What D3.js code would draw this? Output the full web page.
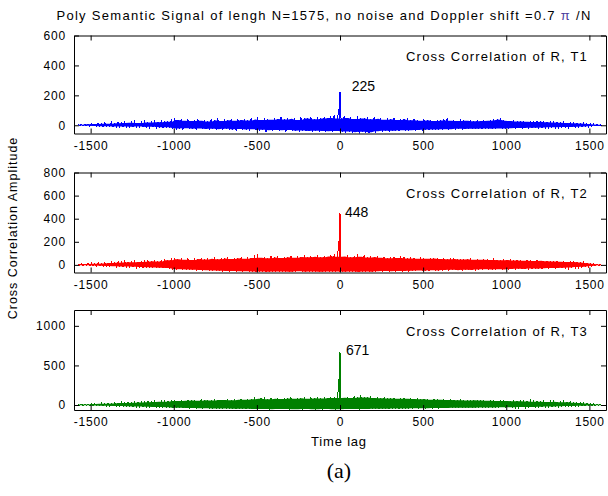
<!DOCTYPE html>
<html><head><meta charset="utf-8">
<script src="https://cdn.jsdelivr.net/npm/d3@7/dist/d3.min.js"></script>
<style>
body{margin:0;background:#fff}
text{font-family:"Liberation Sans",Arial,sans-serif;fill:#000}
</style></head><body>
<svg id="c" width="608" height="496"></svg>
<script>
// ---------- data ----------
const titleText = "Poly Semantic Signal of lengh N=1575, no noise and Doppler shift =0.7";
const timeLagTicks = [-1500, -1000, -500, 0, 500, 1000, 1500];
const yTicks1 = [0, 200, 400, 600];
const yTicks2 = [0, 200, 400, 600, 800];
const yTicks3 = [0, 500, 1000];
const seriesNames = ["Cross Correlation of R, T1", "Cross Correlation of R, T2", "Cross Correlation of R, T3"];
const binFirstLag = -1570, binStep = 20;           // time-lag bins (centre of first bin, bin width)
const peakLags = [-6, -3, 0];
const peak1 = [107, 15, 225];
const peak2 = [210, 20, 448];
const peak3 = [325, 25, 671];
const peakLabels = ["225", "448", "671"];
const peakLabelLag = [70, 30, 36];
const peakLabelValue = [262, 455, 690];
// upper / lower extremes of the correlation inside each 20-lag bin
const hi1 = [4,7,6,9,12,8,14,11,16,10, 18,13,20,15,22,17,19,24,16,21, 25,18,23,27,20,26,30,24,38,48,
  35,44,30,40,28,37,42,31,36,26, 39,33,45,29,38,34,41,30,44,36, 40,32,47,38,52,35,49,43,37,50,
  42,54,39,47,44,51,36,55,45,48, 58,41,52,46,56,49,62,70,45,60, 64,48,57,42,60,50,46,55,40,52,
  44,50,37,46,41,48,35,43,39,46, 33,42,38,30,40,34,37,29,36,32, 40,50,31,36,28,38,33,30,35,27,
  34,29,36,31,33,38,42,47,35,30, 28,32,25,30,27,24,29,22,26,23, 27,20,24,19,22,17,21,15,18,14,
  16,12,13,10,9,7,5,3];
const lo1 = [-2,-4,-3,-6,-5,-8,-7,-10,-6,-9, -11,-8,-12,-9,-13,-10,-14,-11,-9,-13,
  -12,-15,-10,-16,-13,-17,-14,-18,-24,-30, -22,-28,-20,-26,-24,-29,-21,-27,-25,-30,
  -23,-31,-26,-33,-24,-30,-28,-35,-25,-32, -29,-36,-27,-34,-38,-30,-45,-33,-37,-31,
  -39,-34,-42,-32,-40,-36,-43,-35,-41,-38, -44,-37,-42,-39,-46,-40,-43,-38,-41,-44,
  -48,-42,-53,-47,-55,-44,-50,-54,-46,-49, -40,-45,-37,-42,-38,-36,-41,-34,-39,-35,
  -33,-37,-31,-35,-30,-34,-28,-32,-29,-31, -27,-30,-26,-29,-24,-28,-25,-27,-23,-26,
  -24,-27,-22,-25,-23,-26,-21,-24,-22,-25, -20,-23,-19,-22,-18,-21,-17,-20,-16,-19,
  -15,-18,-14,-16,-13,-15,-12,-14,-11,-12, -10,-11,-8,-9,-7,-5,-4,-2];
const hi2 = [5,9,7,12,15,10,18,13,22,16, 25,18,28,20,32,24,22,30,26,35, 28,38,32,42,30,45,50,40,55,62,
  48,58,45,60,42,55,50,62,46,57, 52,64,48,60,55,66,50,62,58,68, 54,70,60,85,90,62,72,58,75,64,
  78,60,72,66,80,62,74,68,82,65, 76,70,84,66,80,72,88,95,70,80, 72,86,66,78,90,70,82,64,76,68,
  74,62,70,58,72,66,60,75,64,56, 68,60,54,65,58,52,62,55,60,50, 57,48,55,62,50,46,54,49,58,45,
  52,44,50,47,42,55,45,40,48,43, 46,38,44,40,36,42,38,34,40,35, 37,32,35,30,33,28,31,26,28,24,
  25,20,22,16,14,10,7,4];
const lo2 = [-3,-5,-4,-8,-6,-10,-8,-12,-9,-14, -11,-16,-13,-18,-15,-20,-17,-22,-19,-24,
  -20,-26,-22,-28,-25,-30,-27,-34,-40,-46, -38,-44,-40,-48,-42,-50,-45,-52,-47,-54,
  -49,-55,-50,-57,-52,-58,-53,-60,-55,-62, -56,-63,-58,-61,-65,-57,-62,-59,-64,-58,
  -63,-57,-61,-65,-59,-62,-56,-64,-60,-63, -58,-62,-65,-59,-63,-57,-61,-64,-58,-62,
  -60,-65,-58,-63,-61,-64,-57,-62,-59,-63, -55,-60,-53,-58,-56,-61,-52,-57,-54,-59,
  -50,-55,-48,-53,-51,-56,-46,-52,-49,-54, -45,-50,-43,-48,-46,-51,-42,-47,-44,-49,
  -40,-45,-38,-43,-41,-46,-37,-42,-39,-44, -35,-40,-33,-38,-36,-41,-32,-37,-34,-38,
  -30,-34,-28,-32,-26,-30,-24,-27,-22,-25, -19,-21,-16,-17,-12,-10,-7,-4];
const hi3 = [6,10,8,14,12,18,15,22,17,26, 20,28,24,32,26,35,30,38,33,40, 36,50,38,44,40,47,42,52,56,60,
  50,64,55,68,58,62,54,70,60,66, 58,72,62,68,64,74,60,70,66,76, 68,80,72,96,78,88,100,74,86,80,
  92,76,88,82,96,78,90,84,98,80, 94,86,100,82,96,90,104,98,88,95, 92,100,88,110,94,130,102,96,108,90,
  98,86,94,82,92,88,80,90,84,78, 86,76,82,72,80,74,68,78,70,66, 75,64,72,66,60,70,62,58,68,60,
  64,56,62,54,60,58,52,57,50,55, 52,48,55,46,50,44,52,42,48,40, 46,38,44,62,40,36,42,34,38,30,
  32,26,28,20,16,12,8,5];
const lo3 = [-3,-5,-4,-7,-6,-9,-8,-11,-10,-13, -12,-15,-14,-17,-16,-19,-18,-21,-20,-23,
  -22,-25,-24,-27,-26,-29,-28,-33,-36,-40, -35,-41,-38,-43,-39,-44,-40,-46,-42,-47,
  -43,-48,-44,-49,-45,-50,-46,-51,-47,-52, -48,-53,-49,-54,-50,-55,-51,-56,-52,-55,
  -50,-54,-51,-56,-52,-55,-53,-57,-51,-55, -52,-56,-53,-57,-50,-54,-52,-56,-53,-55,
  -54,-50,-55,-51,-56,-49,-54,-50,-53,-48, -52,-47,-51,-46,-50,-45,-49,-44,-48,-43,
  -47,-42,-46,-41,-45,-40,-44,-39,-43,-38, -42,-37,-41,-36,-40,-35,-39,-34,-38,-33,
  -37,-32,-36,-31,-35,-30,-34,-29,-33,-28, -32,-27,-31,-26,-30,-25,-29,-24,-27,-22,
  -25,-20,-23,-18,-21,-16,-19,-14,-16,-12, -13,-10,-11,-8,-7,-5,-4,-3];

// ---------- layout ----------
const svg = d3.select("#c");
const L = 74, R = 606;
const panels = [
  {top: 35.5, bottom: 133.5, ymin: -55, ymax: 600, ticks: yTicks1, hi: hi1, lo: lo1, peak: peak1, color: "#0000ff"},
  {top: 172.5, bottom: 272.5, ymin: -66, ymax: 800, ticks: yTicks2, hi: hi2, lo: lo2, peak: peak2, color: "#ff0000"},
  {top: 310, bottom: 410, ymin: -63, ymax: 1200, ticks: yTicks3, hi: hi3, lo: lo3, peak: peak3, color: "#008000"}
];
const x = d3.scaleLinear().domain([-1600, 1600]).range([L, R]);
const tickFont = 12, tickSpacing = "0.8px";
const fmt = d => String(d);

panels.forEach((p, k) => {
  const y = d3.scaleLinear().domain([p.ymin, p.ymax]).range([p.bottom, p.top]);
  const pts = [];
  p.hi.forEach((v, i) => {
    const c = binFirstLag + binStep * i;
    pts.push({lag: c - binStep / 4, v: v});
    pts.push({lag: c + binStep / 4, v: p.lo[i]});
  });
  peakLags.forEach((lg, j) => pts.push({lag: lg, v: p.peak[j]}));
  pts.sort((a, b) => a.lag - b.lag);

  // dense core of the trace: where neighbouring bins overlap the line fills solid
  const n = p.hi.length;
  const core = p.hi.map((v, i) => {
    const a = Math.max(0, i - 1), b = Math.min(n - 1, i + 1);
    return {
      lag: binFirstLag + binStep * i,
      top: Math.min(p.hi[a], v, p.hi[b]),
      bot: Math.max(p.lo[a], p.lo[i], p.lo[b])
    };
  });

  const clipId = "clip" + k;
  svg.append("clipPath").attr("id", clipId).append("rect")
    .attr("x", L).attr("y", p.top).attr("width", R - L).attr("height", p.bottom - p.top);
  svg.append("path").datum(core)
    .attr("clip-path", `url(#${clipId})`)
    .attr("fill", p.color).attr("stroke", "none")
    .attr("d", d3.area().x(d => x(d.lag)).y0(d => y(d.bot)).y1(d => y(d.top)));
  svg.append("path").datum(pts)
    .attr("clip-path", `url(#${clipId})`)
    .attr("fill", "none").attr("stroke", p.color).attr("stroke-width", 1)
    .attr("shape-rendering", "crispEdges")
    .attr("d", d3.line().x(d => x(d.lag)).y(d => y(d.v)));

  const styleAxis = g => {
    g.selectAll(".domain").attr("stroke", "#000");
    g.selectAll(".tick line").attr("stroke", "#000");
    g.selectAll("text").attr("font-size", tickFont).style("letter-spacing", tickSpacing)
      .attr("font-family", '"Liberation Sans",Arial,sans-serif').attr("fill", "#000");
  };
  svg.append("g").attr("transform", `translate(0,${p.bottom})`)
    .call(d3.axisBottom(x).tickValues(timeLagTicks).tickFormat(fmt).tickSizeInner(-5).tickSizeOuter(0).tickPadding(7.5))
    .call(styleAxis);
  svg.append("g").attr("transform", `translate(0,${p.top})`)
    .call(d3.axisTop(x).tickValues(timeLagTicks).tickSizeInner(-5).tickSizeOuter(0).tickFormat(""))
    .call(styleAxis);
  svg.append("g").attr("transform", `translate(${L},0)`)
    .call(d3.axisLeft(y).tickValues(p.ticks).tickFormat(fmt).tickSizeInner(-5).tickSizeOuter(0).tickPadding(8))
    .call(styleAxis);
  svg.append("g").attr("transform", `translate(${R},0)`)
    .call(d3.axisRight(y).tickValues(p.ticks).tickSizeInner(-5).tickSizeOuter(0).tickFormat(""))
    .call(styleAxis);

  svg.append("text").attr("x", R - 18).attr("y", p.top + 21).attr("dy", "0.35em")
    .attr("text-anchor", "end").attr("font-size", 13).style("letter-spacing", "1.2px")
    .text(seriesNames[k]);
  svg.append("text").attr("x", x(peakLabelLag[k])).attr("y", y(peakLabelValue[k])).attr("dy", "0.35em")
    .attr("font-size", 14).text(peakLabels[k]);
});

// title
const t = svg.append("text").attr("x", 324).attr("y", 15).attr("dy", "0.35em")
  .attr("text-anchor", "middle").attr("font-size", 13).style("letter-spacing", "1.3px");
t.append("tspan").text(titleText + " ");
t.append("tspan").style("fill", "#4a3c9c").text("π");
t.append("tspan").text(" /N");

// axis labels
svg.append("text").attr("transform", "translate(13,228) rotate(-90)").attr("dy", "0.35em")
  .attr("text-anchor", "middle").attr("font-size", 12.5).style("letter-spacing", "1px")
  .text("Cross Correlation Amplitude");
svg.append("text").attr("x", 339).attr("y", 441).attr("dy", "0.35em")
  .attr("text-anchor", "middle").attr("font-size", 13).style("letter-spacing", "0.8px")
  .text("Time lag");
svg.append("text").attr("x", 339).attr("y", 470).attr("dy", "0.35em")
  .attr("text-anchor", "middle").attr("font-size", 22)
  .style("font-family", '"Liberation Serif","Times New Roman",serif')
  .text("(a)");
</script>
</body></html>
